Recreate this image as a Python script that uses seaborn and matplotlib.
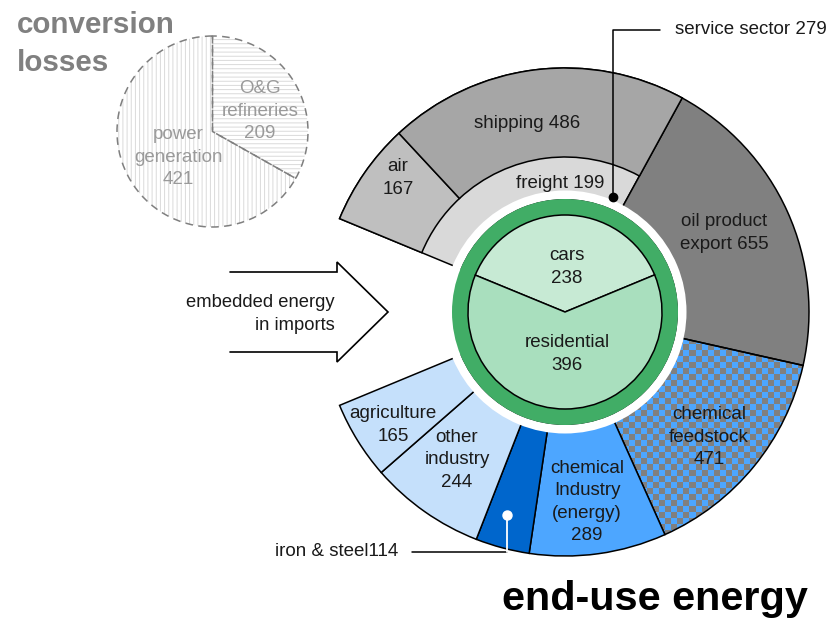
import matplotlib.pyplot as plt
import numpy as np
import seaborn as sns
from matplotlib.colors import ListedColormap


# data
transport_names = ['air', 'shipping']
transport_values = [167, 486]
freight_value = 199

sector_names = ['oil product\nexport', 'chemical\nfeedstock', 'chemical\nIndustry\n(energy)',
                'iron & steel', 'other\nindustry', 'agriculture']
sector_values = [655, 471, 289, 114, 244, 165]

home_names = ['cars', 'residential']
home_values = [238, 396]
service_value = 279

loss_names = ['O&G\nrefineries', 'power\ngeneration']
loss_values = [209, 421]


sns.set_theme(style='white')
plt.rcParams['font.family'] = ['Liberation Sans', 'DejaVu Sans']
plt.rcParams['hatch.linewidth'] = 0.7

W, H = 830, 618


def Y(py):
    # picture rows run downwards, axes run upwards
    return H - py


fig = plt.figure(figsize=(W / 100, H / 100), dpi=100)
ax = fig.add_axes([0, 0, 1, 1])

center = (565, Y(312))
r_out, r_freight, r_white, r_green, r_inner = 244, 155, 121.5, 113, 97
edge = dict(edgecolor='black', linewidth=1.1)

# outer ring: transport (freight colour), other sectors, and a 45 degree gap on the left
transport_total = sum(transport_values) + freight_value
total = transport_total + sum(sector_values)
gap = total * 45 / 315
ring_values = [transport_total] + sector_values + [gap]
ring_colors = ['#d9d9d9', '#808080', 'none', '#4da6ff', '#0066cc', '#c5e0fb', '#c5e0fb', 'none']
wedges, _ = ax.pie(ring_values, radius=r_out, center=center, startangle=157.5,
                   counterclock=False, colors=ring_colors,
                   wedgeprops=dict(width=r_out - r_green, **edge))
wedges[-1].set_visible(False)

# checkerboard for the chemical feedstock slice
cell = 6
ny, nx = 46, 42
ii, jj = np.indices((ny, nx))
checker = (ii + jj) % 2
x0, y0 = 563, Y(566)
im = ax.imshow(checker, cmap=ListedColormap(['#808080', '#4da6ff']), interpolation='nearest',
               extent=(x0, x0 + nx * cell, y0, y0 + ny * cell), zorder=0.5, origin='lower')
im.set_clip_path(wedges[2])

# air and shipping share the transport angle outside the freight band
split = [v * transport_total / sum(transport_values) for v in transport_values]
outer2, _ = ax.pie(split + [total + gap - transport_total], radius=r_out, center=center,
                   startangle=157.5, counterclock=False,
                   colors=['#bfbfbf', '#a6a6a6', 'none'],
                   wedgeprops=dict(width=r_out - r_freight, **edge))
outer2[-1].set_visible(False)

# white gap, green service ring, inner pie
ax.pie([1], radius=r_white, center=center, colors=['white'],
       wedgeprops=dict(width=r_white - r_green, linewidth=0))
ax.pie([service_value], radius=r_green, center=center, colors=['#41ad66'],
       wedgeprops=dict(width=r_green - r_inner, linewidth=0))
ax.pie(home_values, radius=r_inner, center=center, startangle=22.5,
       colors=['#c7ead4', '#a9dfbe'], wedgeprops=edge)

# conversion losses pie
lc = (212.5, Y(131.5))
lw_, _ = ax.pie(loss_values, radius=95.5, center=lc, startangle=90, counterclock=False,
                colors=['white', 'white'],
                wedgeprops=dict(edgecolor='#dadada', linewidth=0))
lw_[0].set_hatch('----')
lw_[1].set_hatch('||||')
ax.pie(loss_values, radius=95.5, center=lc, startangle=90, counterclock=False,
       wedgeprops=dict(fill=False, edgecolor='#7f7f7f', linewidth=1.1, linestyle=(0, (5, 3.5))))

# labels
fs = 13.5
txt = dict(ha='center', va='center', fontsize=fs, color='#1a1a1a', linespacing=1.4)
ax.text(398, Y(178), f'{transport_names[0]}\n{transport_values[0]}', **txt)
ax.text(527, Y(123), f'{transport_names[1]} {transport_values[1]}', **txt)
ax.text(560, Y(183), f'freight {freight_value}', **txt)
ax.text(724, Y(233), f'{sector_names[0]} {sector_values[0]}', **txt)
ax.text(709, Y(437), f'{sector_names[1]}\n{sector_values[1]}', **txt)
ax.text(587, Y(502), f'{sector_names[2]}\n{sector_values[2]}', **txt)
ax.text(457, Y(460), f'{sector_names[4]}\n{sector_values[4]}', **txt)
ax.text(393, Y(425), f'{sector_names[5]}\n{sector_values[5]}', **txt)
ax.text(567, Y(267), f'{home_names[0]}\n{home_values[0]}', **txt)
ax.text(567, Y(354), f'{home_names[1]}\n{home_values[1]}', **txt)

grey = dict(ha='center', va='center', fontsize=fs, color='#9a9a9a', linespacing=1.4)
ax.text(178, Y(157), f'{loss_names[1]}\n{loss_values[1]}', **grey)
ax.text(260, Y(111), f'{loss_names[0]}\n{loss_values[0]}', **grey)

# service sector leader
ax.plot([660, 613, 613], [Y(30), Y(30), Y(197)], color='black', lw=1.1, zorder=5)
ax.plot([613], [Y(197)], 'o', color='black', ms=6, zorder=6)
ax.text(675, Y(30), f'service sector {service_value}', ha='left', va='center',
        fontsize=fs, color='#1a1a1a')

# iron & steel leader
ax.plot([412, 507], [Y(552), Y(552)], color='black', lw=1.1, zorder=5)
ax.plot([507, 507], [Y(552), Y(515)], color='white', lw=1.3, zorder=5)
ax.plot([507], [Y(515)], 'o', color='white', ms=6.5, zorder=6)
ax.text(398, Y(552), f'iron & steel{sector_values[3]}', ha='right', va='center',
        fontsize=fs, color='#1a1a1a')

# embedded energy arrow
ax.plot([230, 337, 337, 388, 337, 337, 230],
        [Y(272), Y(272), Y(262), Y(312), Y(362), Y(352), Y(352)],
        color='black', lw=1.2, solid_joinstyle='miter')
ax.text(335, Y(314), 'embedded energy\nin imports', ha='right', va='center',
        fontsize=13.2, color='#1a1a1a', linespacing=1.4)

# titles
ax.text(17, Y(44), 'conversion\nlosses', ha='left', va='center', fontsize=21.3,
        fontweight='bold', color='#808080', linespacing=1.45)
ax.text(502, Y(610), 'end-use energy', ha='left', va='baseline', fontsize=29.8,
        fontweight='bold', color='black')

ax.set_xlim(0, W)
ax.set_ylim(0, H)
ax.set_aspect('equal')
ax.axis('off')

fig.savefig('out.png', dpi=100)
